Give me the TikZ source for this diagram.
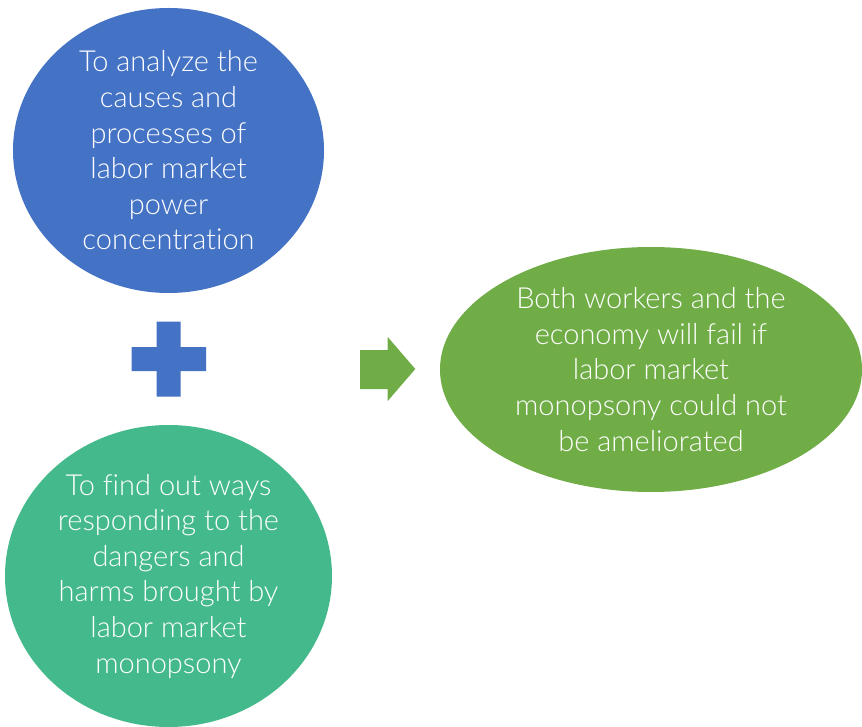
\documentclass[tikz,border=0pt]{standalone}
\usepackage{fontspec}
\setmainfont{Lato}[UprightFont=* Light, Ligatures=NoCommon]
\usetikzlibrary{shapes.geometric}
\definecolor{ovalblue}{HTML}{4472C4}
\definecolor{ovalteal}{HTML}{44BA8C}
\definecolor{ovalgreen}{HTML}{70AD47}
\tikzset{
    oval/.style = {ellipse, inner sep=0pt, align=center, text=white,
                   font=\fontsize{29}{35.6}\selectfont},
    ovalb/.style = {oval, fill=ovalblue},
    ovalt/.style = {oval, fill=ovalteal},
    ovalg/.style = {oval, fill=ovalgreen}
}
\begin{document}
\begin{tikzpicture}[x=1pt,y=-1pt]
\useasboundingbox (0,0) rectangle (862,727);
%
\node[ovalb, minimum width=311pt, minimum height=285pt] at (168.5,150.5) (aim)
    {To analyze the\\causes and\\processes of\\labor market\\power\\concentration};
\node[ovalt, minimum width=327pt, minimum height=302pt] at (168.5,576) (way)
    {To find out ways\\responding to the\\dangers and\\harms brought by\\labor market\\monopsony};
\node[ovalg, minimum width=422pt, minimum height=245pt] at (651,369.5) (fail)
    {Both workers and the\\economy will fail if\\labor market\\monopsony could not\\be ameliorated};
%
% plus sign
\fill[ovalblue] (156.7,321.7) -- (180.7,321.7) -- (180.7,347) -- (206,347) -- (206,371)
    -- (180.7,371) -- (180.7,396.7) -- (156.7,396.7) -- (156.7,371) -- (131.7,371)
    -- (131.7,347) -- (156.7,347) -- cycle;
% arrow
\fill[ovalgreen] (360,350) -- (387.7,350) -- (387.7,337) -- (415.3,369) -- (387.7,401)
    -- (387.7,389) -- (360,389) -- cycle;

\end{tikzpicture}
\end{document}
